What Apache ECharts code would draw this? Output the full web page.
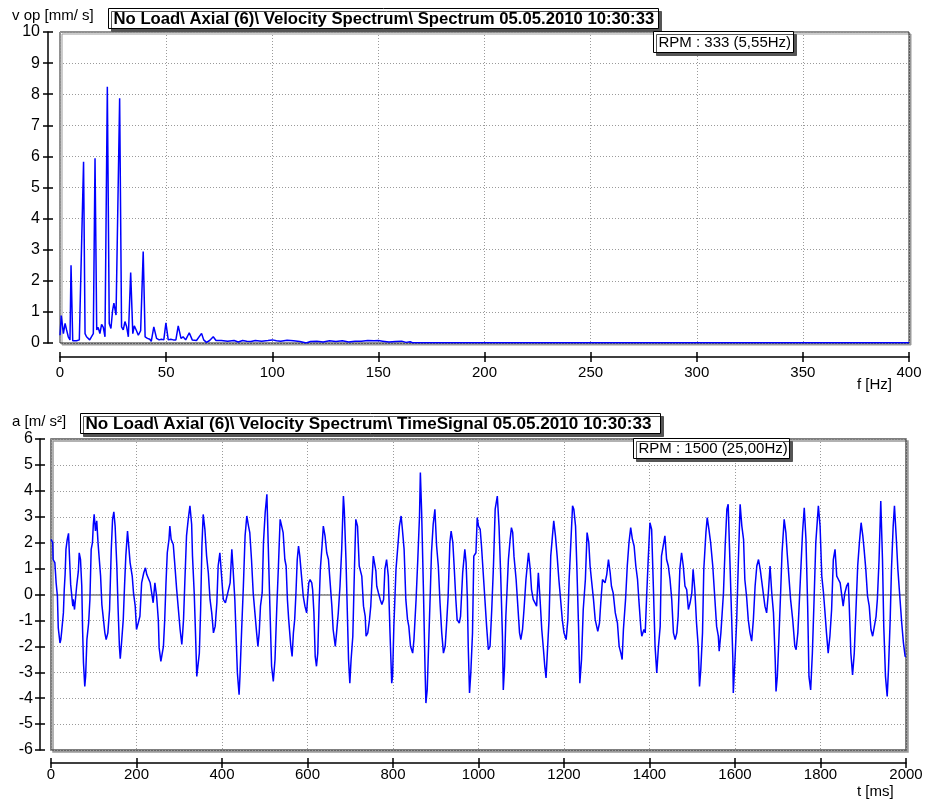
<!DOCTYPE html>
<html><head><meta charset="utf-8">
<script src="https://cdn.jsdelivr.net/npm/echarts@6/dist/echarts.min.js"></script>
<style>html,body{margin:0;padding:0;background:#fff}#c{width:927px;height:800px}</style>
</head><body><div id="c"></div>
<script>
// ---- Spectrum (top) ----
const specFreq = [0,0.6,1.6,2.4,3.1,3.9,4.7,5.2,6.0,7.8,9.1,9.7,11.1,11.8,12.5,13.3,14.0,14.8,15.7,16.5,17.3,18.0,18.8,19.6,20.4,21.2,22.3,23.2,24.0,24.8,25.4,26.4,27.1,28.1,29.0,29.8,30.6,31.4,32.2,33.3,34.3,35.0,36.0,36.9,38.0,39.2,40.1,41.2,42.3,43.0,44.2,45.5,46.7,47.8,48.9,49.9,51.0,52.2,53.4,54.6,55.7,57.0,58.0,59.2,60.9,62.3,64.3,66.7,67.7,69.0,70.5,72.2,73.5,76,79,82,84,86,88,90,92,95,98,100,102,104,107,110,113,116,118,121,124,127,130,133,136,139,142,145,148,150,152,155,158,161,163,165,166,200,300,400];
const specVel = [0.25,0.88,0.3,0.63,0.42,0.2,0.1,2.5,0.07,0.07,0.1,0.07,5.83,0.3,0.2,0.25,0.1,0.2,0.3,5.94,0.42,0.5,0.3,0.6,0.5,0.2,8.24,0.63,0.47,1.06,1.28,0.9,0.95,7.87,0.52,0.42,0.69,0.52,0.2,2.27,0.3,0.55,0.4,0.25,0.4,2.94,0.2,0.15,0.12,0.05,0.52,0.15,0.1,0.12,0.1,0.65,0.1,0.12,0.1,0.1,0.55,0.15,0.2,0.1,0.33,0.1,0.08,0.31,0.1,0.02,0.08,0.2,0.08,0.08,0.06,0.08,0.03,0.08,0.06,0.05,0.08,0.06,0.08,0.1,0.07,0.06,0.09,0.07,0.05,0.0,0.05,0.06,0.03,0.07,0.05,0.07,0.03,0.06,0.06,0.08,0.07,0.08,0.06,0.03,0.05,0.06,0.02,0.04,0.01,0.01,0.01,0.01];

// ---- Time signal (bottom) ----
const timeMs = [0,4,5,9,12,15,17,19,21,23,25,29,31,33,35,38,41,43,46,48,51,52,55,58,60,64,66,69,72,74,76,79,81,84,88,91,94,97,99,101,104,107,110,113,116,119,122,126,129,133,137,141,144,147,150,154,157,160,162,165,169,172,175,179,182,185,190,193,197,200,204,208,212,217,221,224,228,232,235,239,243,247,251,253,257,260,263,266,269,272,276,278,281,286,289,294,298,302,306,308,310,313,317,321,325,329,331,335,338,341,344,347,350,353,356,360,364,368,372,376,380,384,388,391,395,399,403,408,412,419,423,426,430,433,436,440,442,446,450,454,458,462,465,469,473,477,481,484,487,490,494,497,501,505,508,512,516,520,524,528,532,536,539,543,547,550,553,556,561,564,567,570,573,576,579,582,586,590,594,598,600,603,606,610,612,615,618,621,624,627,630,634,637,641,645,649,653,657,660,665,668,672,676,680,684,686,690,693,696,699,702,706,710,713,717,721,
727,731,735,737,741,745,748,751,754,757,760,762,766,770,774,778,781,785,789,793,797,799,802,807,812,815,819,822,826,830,834,837,841,846,849,854,858,862,864,867,871,875,877,880,883,887,890,894,898,902,906,910,914,918,922,925,929,933,936,940,943,947,950,955,958,963,968,971,974,976,979,982,986,989,994,997,1000,1004,1007,1011,1015,1019,1023,1027,1031,1035,1039,1044,1048,1052,1056,1058,1061,1064,1070,1074,1077,1080,1083,1088,1092,1096,1099,1103,1107,1111,1117,1121,1124,1128,1132,1136,1140,1144,1148,1152,1155,1158,1161,1165,1169,1173,1176,1180,1184,1188,1192,1196,1200,1205,1209,1212,1216,1220,1223,1227,1230,1234,1237,1241,1245,1250,1254,1258,1261,1265,1269,1273,1279,1283,1286,1290,1296,1300,1304,1308,1311,1315,1320,1325,1329,1333,1336,1339,1344,1348,1352,1356,1360,1364,1368,1372,1375,
1380,1382,1387,1390,1393,1397,1401,1405,1409,1413,1417,1421,1425,1428,1432,1436,1440,1444,1448,1452,1456,1460,1464,1467,1471,1475,1479,1483,1487,1491,1495,1499,1502,1506,1510,1514,1517,1520,1524,1527,1532,1535,1539,1543,1548,1553,1557,1561,1563,1567,1573,1577,1581,1584,1588,1592,1595,1596,1600,1604,1608,1612,1616,1620,1623,1627,1631,1635,1639,1643,1647,1651,1655,1659,1662,1666,1670,1674,1678,1682,1686,1690,1694,1696,1699,1702,1707,1710,1715,1719,1722,1726,1730,1735,1740,1743,1747,1750,1754,1758,1762,1766,1770,1773,1777,1781,1785,1789,1795,1799,1803,1807,1810,1814,1818,1822,1826,1830,1834,1838,1842,1846,1850,1853,1857,1861,1865,1867,1871,1875,1879,1883,1887,1891,1895,1899,1902,1906,1910,1914,1918,1922,1926,1930,1933,1937,1941,1945,1948,1952,1956,1959,1963,1966,1970,1973,1977,1981,1986,1990,1994,1998,2000];
const accel = [2.13,2.00,1.35,1.23,0.45,-0.06,-1.29,-1.35,-1.87,-1.74,-1.42,-0.71,0.19,0.77,1.74,2.13,2.36,1.55,0.39,0.32,-0.45,-0.19,-0.58,-0.64,0.32,0.9,1.61,1.35,0.32,-1.42,-2.64,-3.55,-3.16,-1.74,-1.1,-0.19,1.74,2.0,2.71,3.09,2.45,2.84,2.0,1.35,0.71,-0.39,-0.45,-1.48,-1.74,-1.48,-0.58,1.74,2.9,3.19,2.64,1.1,-0.58,-2.0,-2.48,-1.87,-0.97,0.32,1.48,2.45,2.39,1.23,0.71,0.06,-0.45,-1.35,-1.1,-0.84,0.45,0.84,1.03,0.77,0.71,0.45,0.52,-0.32,0.45,-0.06,-0.97,-2.06,-2.58,-2.51,-2.0,-0.97,0.45,1.61,2.13,2.64,2.13,1.93,1.29,0.19,-0.58,-1.35,-1.93,-1.48,-0.97,0.45,2.26,2.9,3.42,2.71,1.48,0.06,-1.48,-3.16,-3.16,-2.26,-0.58,1.87,3.09,2.51,1.48,0.84,-0.19,-0.71,-1.48,-1.23,-0.32,1.1,1.61,0.71,-0.19,-0.32,-0.32,0.45,1.74,0.97,-0.19,-1.61,-3.03,-3.87,-3.16,-1.35,0.32,2.26,3.03,2.64,2.39,1.35,0.06,-0.71,-1.48,-2.0,-1.48,-0.45,0.06,2.0,3.16,3.87,2.0,-0.45,-2.77,-3.35,-2.51,-0.58,1.1,2.9,2.9,2.39,1.35,1.1,-0.19,-0.97,-2.0,-2.39,-1.48,-0.97,0.06,1.35,1.87,1.48,0.71,-0.06,-0.45,-0.71,-0.19,0.45,0.58,0.45,0.19,-0.71,-2.39,-2.77,-2.26,-0.45,0.97,1.87,2.64,2.26,1.61,1.35,0.45,-0.45,-1.35,-2.0,-1.48,-0.71,0.32,1.74,3.8,3.29,1.35,-0.58,-2.51,-3.42,-2.51,-1.61,1.1,2.9,2.64,1.1,
0.71,-0.45,-0.84,-1.61,-1.48,-0.97,-0.45,0.58,1.48,1.55,0.9,0.32,0.06,-0.19,-0.39,-0.19,0.97,1.35,0.71,-1.48,-3.42,-3.16,-1.23,0.97,2.0,2.64,3.03,2.51,1.74,-0.19,-0.97,-1.23,-2.0,-2.26,-1.74,-0.19,1.35,3.03,4.71,3.16,0.32,-2.9,-4.19,-3.68,-2.13,-0.06,1.61,2.71,3.29,1.87,1.1,-0.32,-1.48,-2.26,-2.0,-1.23,-0.06,2.0,2.45,2.0,1.1,-0.19,-0.97,-1.1,-0.84,0.84,1.74,1.23,-0.19,-2.0,-3.8,-3.03,-1.48,1.48,1.61,2.97,2.64,2.51,1.87,0.84,-0.19,-1.23,-2.13,-2.0,-0.58,1.1,3.29,3.8,2.64,0.71,-1.61,-3.68,-2.77,-0.84,1.35,2.13,2.58,2.39,1.48,0.58,-0.45,-1.48,-1.74,-1.35,-0.45,0.58,1.61,0.97,0.19,-0.19,-0.13,-0.45,0.84,-0.19,-1.35,-2.13,-2.77,-3.22,-2.26,-0.97,1.48,2.26,2.84,2.26,1.48,0.58,-0.19,-0.97,-1.48,-1.74,-0.97,0.58,2.0,3.42,3.29,2.64,1.1,-1.23,-3.42,-2.51,-0.58,0.58,2.39,2.0,1.1,0.45,-0.19,-0.97,-1.42,-1.1,-0.32,0.58,0.45,0.77,1.35,0.84,0.32,0.06,-0.71,-1.1,-2.0,-2.26,-2.51,-1.35,-0.19,1.1,2.0,2.58,2.13,1.87,1.1,0.58,-0.19,
-1.35,-1.61,-1.35,-1.48,-0.19,1.35,2.77,2.51,0.32,-2.0,-3.03,-2.0,-1.23,1.48,1.87,2.26,1.35,1.1,0.58,-0.19,-1.48,-1.74,-1.48,-0.84,0.97,1.61,1.1,0.32,0.19,-0.58,-0.32,0.06,0.97,0.19,-1.1,-2.0,-3.55,-2.9,-1.48,0.97,2.39,2.97,2.51,2.0,1.1,-0.19,-1.23,-1.61,-2.19,-1.48,0.06,1.87,3.29,3.48,1.35,-0.84,-2.51,-3.8,-2.51,-0.97,1.35,3.48,2.64,2.13,0.58,-0.06,-0.97,-1.48,-1.8,-0.97,0.32,1.1,1.35,0.97,0.58,0.58,-0.45,-0.71,0.06,1.1,0.06,-0.71,-2.51,-3.74,-3.16,-2.0,0.19,1.61,2.9,2.39,1.61,0.71,-0.19,-0.97,-2.0,-2.13,-1.48,-0.45,0.97,2.39,3.35,2.13,-0.45,-3.16,-3.68,-2.26,-0.19,2.0,3.42,2.64,0.71,0.06,-0.58,-1.48,-2.26,-1.61,-0.58,1.35,1.74,0.71,0.58,0.45,-0.06,-0.45,0.06,0.32,0.45,-0.32,-2.26,-3.1,-2.26,-0.58,1.1,2.0,2.77,2.26,1.74,0.97,-0.06,-0.45,-1.35,-1.61,-1.23,-0.84,-0.19,1.35,3.61,1.35,-1.23,-3.16,-3.93,-2.9,-0.97,0.97,2.64,3.42,2.26,0.97,-0.19,-1.1,-1.87,-2.39,-2.39];

const specXTicks = [0, 400, 50];      // min, max, interval (Hz)
const specYTicks = [0, 10, 1];        // min, max, interval (mm/s)
const timeXTicks = [0, 2000, 200];    // min, max, interval (ms)
const timeYTicks = [-6, 6, 1];        // min, max, interval (m/s²)

const FONT = '"Liberation Sans", Arial, sans-serif';
const specData = specFreq.map((f, i) => [f, specVel[i]]);
const timeData = timeMs.map((t, i) => [t, accel[i]]);
const plain = v => String(v);

function xAx(gi, ticks, offset, inside, margin) {
  return {
    type: 'value', gridIndex: gi, min: ticks[0], max: ticks[1], interval: ticks[2],
    position: 'bottom', offset: offset,
    axisLine: { show: !inside, onZero: false, lineStyle: { color: '#000', width: 1.5 } },
    axisTick: { show: true, inside: inside, length: 5, lineStyle: { color: '#000', width: 1.5 } },
    axisLabel: { show: !inside, color: '#000', fontFamily: FONT, fontSize: 15, margin: margin, formatter: plain },
    splitLine: { show: !inside, lineStyle: { color: '#9a9a9a', type: [1, 2], width: 1 } }
  };
}
function yAx(gi, ticks, offset, inside, margin) {
  return {
    type: 'value', gridIndex: gi, min: ticks[0], max: ticks[1], interval: ticks[2],
    position: 'left', offset: offset,
    axisLine: { show: !inside, onZero: false, lineStyle: { color: '#000', width: 1.5 } },
    axisTick: { show: true, inside: inside, length: 5, lineStyle: { color: '#000', width: 1.5 } },
    axisLabel: { show: !inside, color: '#000', fontFamily: FONT, fontSize: 16, margin: margin, formatter: plain },
    splitLine: { show: !inside, lineStyle: { color: '#9a9a9a', type: [1, 2], width: 1 } }
  };
}

function box(x, y, w, h, txt, bold, fs) {
  return {
    type: 'group', left: x, top: y, children: [
      { type: 'rect', shape: { x: 0, y: 0, width: w, height: h },
        style: { fill: '#fff', stroke: '#000', lineWidth: 1, shadowColor: '#555', shadowOffsetX: 3, shadowOffsetY: 3, shadowBlur: 0 }, z: 100 },
      { type: 'text', x: 5, y: h / 2 + 0.5, z: 101,
        style: { text: txt, fill: '#000', font: (bold ? 'bold ' : '') + fs + 'px ' + FONT, textVerticalAlign: 'middle', textBaseline: 'middle' } }
    ]
  };
}
function label(x, y, txt) {
  return { type: 'text', left: x, top: y, z: 100,
    style: { text: txt, fill: '#000', font: '15px ' + FONT } };
}

const chart = echarts.init(document.getElementById('c'), null, { renderer: 'canvas' });
chart.setOption({
  backgroundColor: '#fff',
  animation: false,
  grid: [
    { left: 60, top: 32, width: 849, height: 311, show: true, backgroundColor: '#fff', borderColor: '#222', borderWidth: 1,
      shadowColor: '#999', shadowOffsetX: 2, shadowOffsetY: 2, shadowBlur: 0 },
    { left: 51, top: 439, width: 855, height: 311, show: true, backgroundColor: '#fff', borderColor: '#555', borderWidth: 1.5,
      shadowColor: '#999', shadowOffsetX: 2, shadowOffsetY: 2, shadowBlur: 0 }
  ],
  xAxis: [
    xAx(0, specXTicks, 14, false, 8), xAx(0, specXTicks, 14, true, 8),
    xAx(1, timeXTicks, 13, false, 4), xAx(1, timeXTicks, 13, true, 4)
  ],
  yAxis: [
    yAx(0, specYTicks, 12, false, 8), yAx(0, specYTicks, 12, true, 8),
    yAx(1, timeYTicks, 11, false, 7), yAx(1, timeYTicks, 11, true, 7)
  ],
  series: [
    { type: 'line', xAxisIndex: 0, yAxisIndex: 0, data: specData, showSymbol: false, symbol: 'none',
      lineStyle: { color: '#0000ff', width: 1.5 }, clip: true },
    { type: 'line', xAxisIndex: 2, yAxisIndex: 2, data: timeData, showSymbol: false, symbol: 'none',
      lineStyle: { color: '#0000ff', width: 1.5 }, clip: true, z: 3,
      markLine: { silent: true, symbol: 'none', label: { show: false }, z: 1,
        lineStyle: { color: '#808080', width: 1.5, type: 'solid' }, data: [{ yAxis: 0 }] } }
  ],
  graphic: [
    label(12, 8, 'v op [mm/ s]'),
    box(108, 8, 550, 20, 'No Load\\ Axial (6)\\ Velocity Spectrum\\ Spectrum 05.05.2010 10:30:33', true, 16.7),
    box(653, 31, 140, 21, 'RPM : 333 (5,55Hz)', false, 15),
    label(857, 377, 'f [Hz]'),
    label(12, 414, 'a [m/ s²]'),
    box(80, 413, 580, 20, 'No Load\\ Axial (6)\\ Velocity Spectrum\\ TimeSignal 05.05.2010 10:30:33', true, 17.1),
    box(633, 438, 156, 20, 'RPM : 1500 (25,00Hz)', false, 15),
    label(857, 784, 't [ms]')
  ]
});
</script>
</body></html>
